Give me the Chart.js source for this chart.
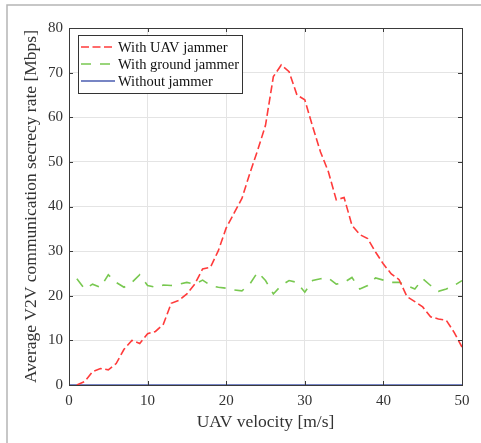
<!DOCTYPE html>
<html>
<head>
<meta charset="utf-8">
<script src="https://cdn.jsdelivr.net/npm/chart.js@4.4.0/dist/chart.umd.min.js"></script>
<style>
  html, body { margin: 0; padding: 0; background: #fff; }
  #wrap { width: 481px; height: 443px; position: relative; }
</style>
</head>
<body>
<div id="wrap"><canvas id="rate-chart" width="481" height="443"></canvas></div>
<script>
// --- data ---
const VELOCITY = [1, 2, 3, 4, 5, 6, 7, 8, 9, 10, 11, 12, 13, 14, 15, 16, 17, 18, 19, 20,
    21, 22, 23, 24, 25, 26, 27, 28, 29, 30, 31, 32, 33, 34, 35, 36, 37, 38, 39, 40,
    41, 42, 43, 44, 45, 46, 47, 48, 49, 50];
const UAV_JAMMER = [0, 0.8, 3.0, 3.7, 3.4, 4.8, 8.0, 10.0, 9.3, 11.5, 12.0, 13.6, 18.3, 19.0, 20.4, 22.6, 26.0, 26.4, 30.1, 35.2,
    38.5, 41.8, 47.4, 52.6, 58.2, 69.1, 71.7, 70.2, 65.0, 63.9, 57.9, 52.2, 47.8, 41.5, 42.0, 35.8, 33.7, 32.8, 29.8, 27.1,
    24.9, 23.6, 19.8, 18.7, 17.5, 15.3, 14.8, 14.5, 11.8, 8.5];
const GROUND_JAMMER = [23.8, 21.5, 22.6, 21.9, 24.7, 23.0, 21.9, 23.0, 24.7, 22.3, 21.9, 22.4, 22.3, 22.6, 23.0, 22.6, 23.5, 22.3, 21.9, 21.7,
    21.3, 21.1, 22.6, 25.3, 23.4, 20.4, 22.3, 23.4, 23.0, 20.8, 23.4, 23.8, 24.0, 22.6, 23.0, 24.1, 21.5, 22.3, 24.0, 23.5,
    23.0, 23.0, 22.3, 21.5, 23.8, 22.3, 21.0, 21.5, 22.3, 23.4];
const NO_JAMMER_X = [0, 50];
const NO_JAMMER = [0, 0];
const X_TICKS = [0, 10, 20, 30, 40, 50];
const Y_TICKS = [0, 10, 20, 30, 40, 50, 60, 70, 80];

const FONT = "'Liberation Serif', 'DejaVu Serif', serif";
const TEXT = '#333333';

const pts = (xs, ys) => xs.map((x, i) => ({ x: x, y: ys[i] }));

// white page plus the thin grey frame of the scanned figure
const pageFrame = {
    id: 'pageFrame',
    beforeDraw(chart) {
        const c = chart.ctx;
        c.save();
        c.fillStyle = '#fff';
        c.fillRect(0, 0, chart.width, chart.height);
        c.strokeStyle = '#b5b5b5';
        c.lineWidth = 1.5;
        c.beginPath();
        c.moveTo(7, chart.height);
        c.lineTo(7, 5);
        c.lineTo(chart.width, 5);
        c.stroke();
        c.restore();
    }
};

// MATLAB style box: inward ticks on all four sides
const boxTicks = {
    id: 'boxTicks',
    afterDatasetsDraw(chart) {
        const { ctx: c, chartArea: a, scales } = chart;
        const len = 4;
        c.save();
        c.strokeStyle = '#3a3a3a';
        c.lineWidth = 1;
        c.beginPath();
        X_TICKS.forEach(v => {
            const px = Math.round(scales.x.getPixelForValue(v)) + 0.5;
            c.moveTo(px, a.bottom); c.lineTo(px, a.bottom - len);
            c.moveTo(px, a.top); c.lineTo(px, a.top + len);
        });
        Y_TICKS.forEach(v => {
            const py = Math.round(scales.y.getPixelForValue(v)) + 0.5;
            c.moveTo(a.left, py); c.lineTo(a.left + len, py);
            c.moveTo(a.right, py); c.lineTo(a.right - len, py);
        });
        c.stroke();
        c.strokeRect(Math.round(a.left) + 0.5, Math.round(a.top) + 0.5,
            Math.round(a.right - a.left), Math.round(a.bottom - a.top));
        c.restore();
    }
};

// legend drawn inside the plot, top-left corner
const innerLegend = {
    id: 'innerLegend',
    afterDraw(chart) {
        const { ctx: c, chartArea: a } = chart;
        const x0 = a.left + 9, y0 = a.top + 7;
        const w = 164, h = 58, row = 17;
        c.save();
        c.fillStyle = '#fff';
        c.fillRect(x0, y0, w, h);
        c.strokeStyle = '#333';
        c.lineWidth = 1;
        c.strokeRect(x0 + 0.5, y0 + 0.5, w, h);
        c.font = '14.5px ' + FONT;
        c.textBaseline = 'middle';
        chart.data.datasets.forEach((ds, i) => {
            const cy = y0 + 12 + i * row;
            c.strokeStyle = ds.borderColor;
            c.lineWidth = ds.borderWidth;
            c.setLineDash(ds.borderDash || []);
            c.beginPath();
            c.moveTo(x0 + 3, cy);
            c.lineTo(x0 + 37, cy);
            c.stroke();
            c.setLineDash([]);
            c.fillStyle = '#111';
            c.fillText(ds.label, x0 + 40, cy + 1);
        });
        c.restore();
    }
};

new Chart(document.getElementById('rate-chart'), {
    type: 'line',
    data: {
        datasets: [
            {
                label: 'With UAV jammer',
                data: pts(VELOCITY, UAV_JAMMER),
                borderColor: '#ff3b3b',
                borderWidth: 1.6,
                borderDash: [8, 3.5],
                pointRadius: 0,
                fill: false,
                tension: 0
            },
            {
                label: 'With ground jammer',
                data: pts(VELOCITY, GROUND_JAMMER),
                borderColor: '#78c850',
                borderWidth: 1.6,
                borderDash: [10, 9],
                pointRadius: 0,
                fill: false,
                tension: 0
            },
            {
                label: 'Without jammer',
                data: pts(NO_JAMMER_X, NO_JAMMER),
                borderColor: '#4a5cb0',
                borderWidth: 1.6,
                pointRadius: 0,
                fill: false,
                tension: 0
            }
        ]
    },
    options: {
        responsive: false,
        animation: false,
        layout: { padding: { top: 28, right: 19, left: 21, bottom: 10 } },
        plugins: {
            legend: { display: false },
            tooltip: { enabled: false }
        },
        scales: {
            x: {
                type: 'linear',
                min: 0,
                max: 50,
                afterBuildTicks: s => { s.ticks = X_TICKS.map(v => ({ value: v })); },
                grid: { color: '#e4e4e4', drawTicks: false },
                border: { display: false },
                ticks: { color: TEXT, font: { family: FONT, size: 15 }, padding: 7, maxRotation: 0 },
                title: { display: true, text: 'UAV velocity [m/s]', color: TEXT,
                         font: { family: FONT, size: 17.5 }, padding: { top: -5, bottom: 0 } }
            },
            y: {
                min: 0,
                max: 80,
                afterBuildTicks: s => { s.ticks = Y_TICKS.map(v => ({ value: v })); },
                grid: { color: '#e4e4e4', drawTicks: false },
                border: { display: false },
                ticks: { color: TEXT, font: { family: FONT, size: 15 }, padding: 6 },
                title: { display: true, text: 'Average V2V communication secrecy rate [Mbps]', color: TEXT,
                         font: { family: FONT, size: 17.5 }, padding: { top: 0, bottom: 0 } }
            }
        }
    },
    plugins: [pageFrame, boxTicks, innerLegend]
});
</script>
</body>
</html>
